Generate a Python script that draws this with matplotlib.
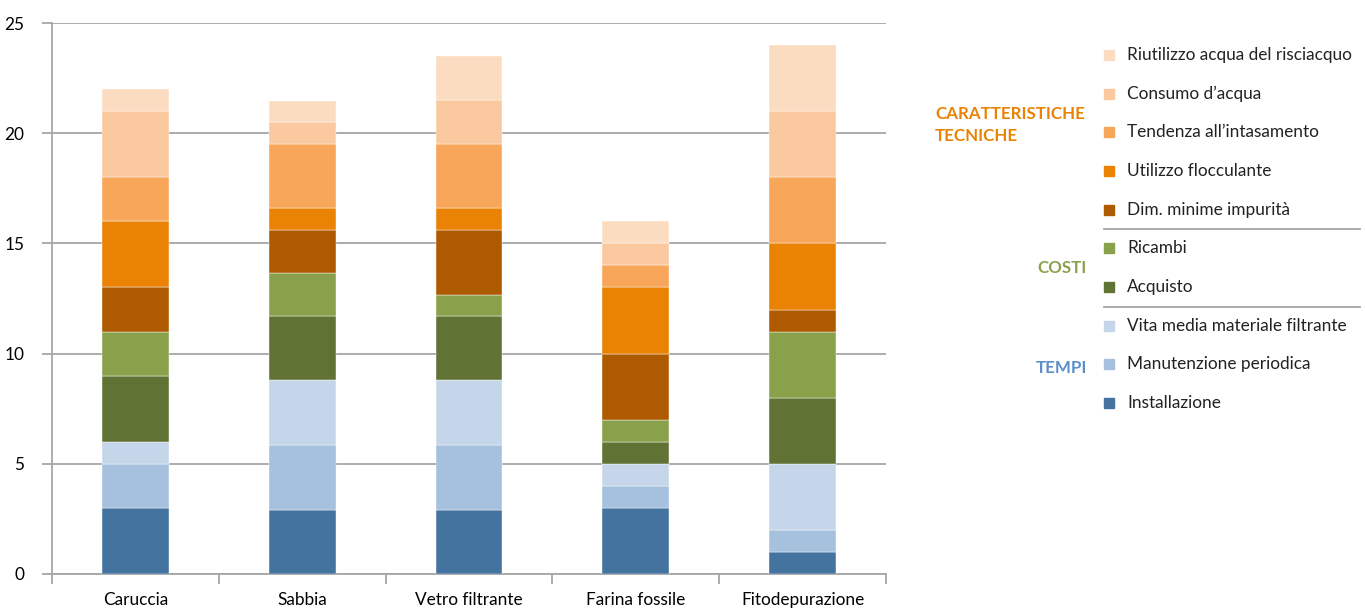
import numpy as np
import matplotlib.pyplot as plt
from matplotlib.patches import Rectangle
from matplotlib.lines import Line2D

plt.rcParams['font.family'] = ['Lato', 'DejaVu Sans']

filtri = ["Caruccia", "Sabbia", "Vetro filtrante", "Farina fossile", "Fitodepurazione"]

# voci dal basso verso l'alto
voci = ["Installazione", "Manutenzione periodica", "Vita media materiale filtrante",
        "Acquisto", "Ricambi",
        "Dim. minime impurità", "Utilizzo flocculante", "Tendenza all\u2019intasamento",
        "Consumo d\u2019acqua", "Riutilizzo acqua del risciacquo"]

installazione = [3, 2.9, 2.9, 3, 1]
manutenzione = [2, 2.95, 2.95, 1, 1]
vita_media = [1, 2.95, 2.95, 1, 3]
acquisto = [3, 2.9, 2.9, 1, 3]
ricambi = [2, 1.95, 0.95, 1, 3]
dim_impurita = [2, 1.95, 2.95, 3, 1]
flocculante = [3, 1, 1, 3, 3]
intasamento = [2, 2.9, 2.9, 1, 3]
consumo = [3, 1, 2, 1, 3]
riutilizzo = [1, 0.95, 2, 1, 3]

serie = [installazione, manutenzione, vita_media, acquisto, ricambi,
         dim_impurita, flocculante, intasamento, consumo, riutilizzo]
colori = ["#4573a0", "#a6c1de", "#c6d6ea", "#617334", "#8aa14b",
          "#ad5a00", "#ea8204", "#f8a659", "#fac9a0", "#fbdcc1"]

fs = 12.4

fig = plt.figure(figsize=(13.65, 6.1), dpi=100)
ax = fig.add_axes([52 / 1365, 1 - 574 / 610, 834 / 1365, 551 / 610])

x = np.arange(len(filtri))
base = np.zeros(len(filtri))
for vals, col in zip(serie, colori):
    ax.bar(x, vals, width=0.4, bottom=base, color=col, edgecolor='white', linewidth=0.3, zorder=3)
    base += np.array(vals)

ax.set_xlim(-0.5, len(filtri) - 0.5)
ax.set_ylim(0, 25)
ax.set_yticks([0, 5, 10, 15, 20, 25])
ax.yaxis.grid(True, color='#a6a6a6', linewidth=1.3, zorder=0)
ax.set_axisbelow(True)

grigio = '#a6a6a6'
for s in ['top', 'right']:
    ax.spines[s].set_visible(False)
for s in ['left', 'bottom']:
    ax.spines[s].set_color(grigio)
    ax.spines[s].set_linewidth(1.3)

ax.set_xticks(x)
ax.set_xticklabels(filtri, fontsize=fs)
ax.set_xticks(np.arange(-0.5, len(filtri)), minor=True)
ax.tick_params(axis='x', which='major', length=0, pad=13)
ax.tick_params(axis='x', which='minor', length=7, color=grigio, width=1.3)
ax.tick_params(axis='y', length=7, color=grigio, width=1.3, labelsize=fs, pad=13)

# legenda a destra, dall'alto verso il basso
def fy(py):
    return 1 - py / 610

righe = [55, 94, 132, 171, 210, 248, 287, 326, 364, 403]
for py, nome, col in zip(righe, voci[::-1], colori[::-1]):
    fig.patches.append(Rectangle((1104 / 1365, fy(py + 5)), 10 / 1365, 10 / 610,
                                 transform=fig.transFigure, color=col))
    fig.text(1127 / 1365, fy(py), nome, fontsize=fs, va='center', color='#222222')

for py in [229, 307]:
    fig.add_artist(Line2D([1104 / 1365, 1360 / 1365], [fy(py), fy(py)],
                          transform=fig.transFigure, color=grigio, linewidth=1.3))

fig.text(935 / 1365, fy(125), "CARATTERISTICHE\nTECNICHE", fontsize=12.2, fontweight='bold',
         color='#ea8204', ha='left', va='center', linespacing=1.45)
fig.text(1087 / 1365, fy(268), "COSTI", fontsize=12.2, fontweight='bold',
         color='#8aa14b', ha='right', va='center')
fig.text(1087 / 1365, fy(368), "TEMPI", fontsize=12.2, fontweight='bold',
         color='#5b8fc9', ha='right', va='center')

fig.savefig("out.png", dpi=100)
